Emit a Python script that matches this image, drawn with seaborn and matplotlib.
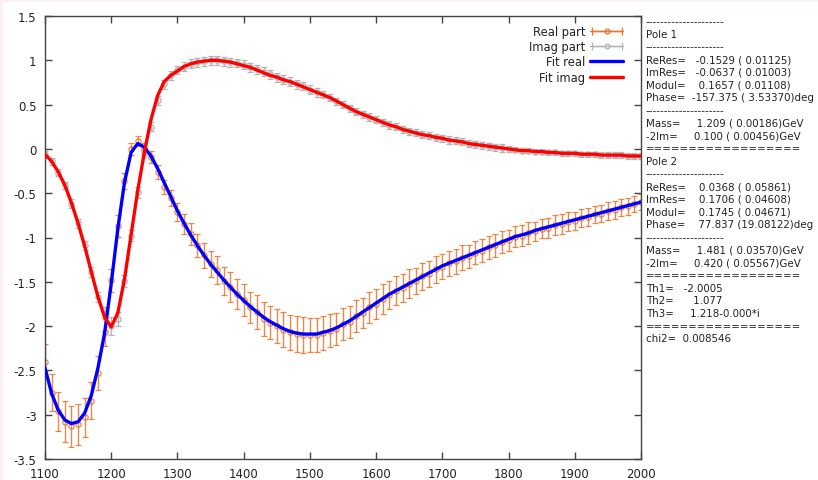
import numpy as np
import pandas as pd
import matplotlib
matplotlib.use('Agg')
import matplotlib.pyplot as plt
import seaborn as sns
from matplotlib.patches import Rectangle
from matplotlib.legend_handler import HandlerErrorbar
from matplotlib.container import ErrorbarContainer

# energy grid (MeV)
energy = list(range(1100, 2001, 10))

re_data = [-2.40, -2.75, -2.96, -3.08, -3.13, -3.11, -3.03, -2.84, -2.53, -2.07,
           -1.48, -0.87, -0.36, 0.00, 0.09, 0.00, -0.09, -0.26, -0.43, -0.55,
           -0.71, -0.85, -0.96, -1.09, -1.20, -1.30, -1.37, -1.49, -1.56, -1.64,
           -1.71, -1.79, -1.84, -1.92, -1.96, -2.00, -2.04, -2.07, -2.09, -2.10,
           -2.10, -2.10, -2.08, -2.05, -2.03, -1.98, -1.95, -1.89, -1.85, -1.79,
           -1.75, -1.69, -1.65, -1.60, -1.57, -1.52, -1.49, -1.44, -1.41, -1.36,
           -1.33, -1.29, -1.27, -1.23, -1.21, -1.17, -1.15, -1.11, -1.09, -1.05,
           -1.03, -0.99, -0.98, -0.95, -0.93, -0.90, -0.89, -0.86, -0.85, -0.82,
           -0.81, -0.78, -0.77, -0.74, -0.73, -0.70, -0.69, -0.66, -0.65, -0.62,
           -0.60]
re_err = [0.20, 0.21, 0.22, 0.23, 0.23, 0.23, 0.22, 0.21, 0.19, 0.16,
          0.13, 0.12, 0.09, 0.07, 0.06, 0.07, 0.07, 0.08, 0.08, 0.09,
          0.10, 0.11, 0.12, 0.13, 0.14, 0.15, 0.16, 0.16, 0.17, 0.17,
          0.18, 0.18, 0.19, 0.19, 0.19, 0.19, 0.20, 0.20, 0.20, 0.20,
          0.19, 0.19, 0.19, 0.19, 0.18, 0.18, 0.18, 0.18, 0.17, 0.17,
          0.17, 0.17, 0.16, 0.16, 0.16, 0.16, 0.15, 0.15, 0.15, 0.15,
          0.14, 0.14, 0.14, 0.14, 0.13, 0.13, 0.13, 0.13, 0.13, 0.12,
          0.12, 0.12, 0.12, 0.12, 0.11, 0.11, 0.11, 0.11, 0.11, 0.11,
          0.10, 0.10, 0.10, 0.10, 0.10, 0.10, 0.10, 0.10, 0.10, 0.09,
          0.09]
re_fit = [-2.47, -2.76, -2.95, -3.06, -3.10, -3.08, -2.98, -2.78, -2.47, -2.08,
          -1.52, -0.90, -0.38, -0.04, 0.06, 0.02, -0.08, -0.22, -0.38, -0.54,
          -0.70, -0.84, -0.97, -1.09, -1.20, -1.30, -1.39, -1.48, -1.56, -1.64,
          -1.71, -1.78, -1.84, -1.90, -1.95, -1.99, -2.03, -2.06, -2.08, -2.09,
          -2.09, -2.09, -2.07, -2.05, -2.02, -1.98, -1.94, -1.89, -1.84, -1.79,
          -1.74, -1.69, -1.64, -1.60, -1.56, -1.52, -1.48, -1.44, -1.40, -1.36,
          -1.32, -1.29, -1.26, -1.23, -1.20, -1.17, -1.14, -1.11, -1.08, -1.05,
          -1.02, -0.99, -0.97, -0.95, -0.92, -0.90, -0.88, -0.86, -0.84, -0.82,
          -0.80, -0.78, -0.76, -0.74, -0.72, -0.70, -0.68, -0.66, -0.64, -0.62,
          -0.60]

im_data = [-0.06, -0.14, -0.27, -0.41, -0.62, -0.84, -1.09, -1.39, -1.67, -1.85,
           -2.00, -1.92, -1.49, -0.98, -0.49, -0.04, 0.25, 0.55, 0.73, 0.83,
           0.89, 0.93, 0.96, 0.98, 0.99, 1.00, 1.00, 0.99, 0.98, 0.97,
           0.95, 0.92, 0.90, 0.87, 0.84, 0.81, 0.78, 0.76, 0.73, 0.71,
           0.67, 0.64, 0.61, 0.58, 0.54, 0.50, 0.46, 0.42, 0.39, 0.36,
           0.33, 0.30, 0.27, 0.25, 0.22, 0.20, 0.18, 0.16, 0.15, 0.13,
           0.12, 0.10, 0.09, 0.08, 0.06, 0.05, 0.04, 0.03, 0.02, 0.01,
           0.00, -0.01, -0.02, -0.02, -0.03, -0.03, -0.04, -0.04, -0.05, -0.05,
           -0.05, -0.06, -0.06, -0.06, -0.07, -0.07, -0.07, -0.07, -0.08, -0.08,
           -0.08]
im_err = [0.04, 0.04, 0.04, 0.04, 0.05, 0.05, 0.05, 0.06, 0.06, 0.07,
          0.10, 0.08, 0.07, 0.06, 0.06, 0.05, 0.05, 0.05, 0.05, 0.05,
          0.05, 0.05, 0.05, 0.05, 0.05, 0.05, 0.05, 0.05, 0.05, 0.05,
          0.05, 0.05, 0.05, 0.05, 0.05, 0.05, 0.05, 0.05, 0.05, 0.05,
          0.05, 0.05, 0.04, 0.04, 0.04, 0.04, 0.04, 0.04, 0.04, 0.04,
          0.04, 0.04, 0.04, 0.04, 0.04, 0.04, 0.04, 0.04, 0.04, 0.04,
          0.04, 0.04, 0.04, 0.04, 0.04, 0.04, 0.04, 0.04, 0.04, 0.04,
          0.03, 0.03, 0.03, 0.03, 0.03, 0.03, 0.03, 0.03, 0.03, 0.03,
          0.03, 0.03, 0.03, 0.03, 0.03, 0.03, 0.03, 0.03, 0.03, 0.03,
          0.03]
im_fit = [-0.06, -0.14, -0.26, -0.41, -0.61, -0.84, -1.10, -1.39, -1.67, -1.90,
          -2.01, -1.85, -1.47, -0.97, -0.47, -0.04, 0.33, 0.60, 0.76, 0.83,
          0.88, 0.93, 0.96, 0.98, 0.99, 1.00, 1.00, 0.99, 0.98, 0.96,
          0.94, 0.92, 0.89, 0.86, 0.83, 0.81, 0.78, 0.76, 0.73, 0.70,
          0.67, 0.64, 0.61, 0.58, 0.54, 0.50, 0.46, 0.42, 0.39, 0.36,
          0.33, 0.30, 0.27, 0.25, 0.22, 0.20, 0.18, 0.16, 0.15, 0.13,
          0.12, 0.10, 0.09, 0.08, 0.06, 0.05, 0.04, 0.03, 0.02, 0.01,
          0.00, -0.01, -0.02, -0.02, -0.03, -0.03, -0.04, -0.04, -0.05, -0.05,
          -0.05, -0.06, -0.06, -0.06, -0.07, -0.07, -0.07, -0.07, -0.08, -0.08,
          -0.08]

pole_text = [
    "---------------------",
    "Pole 1",
    "---------------------",
    "ReRes=   -0.1529 ( 0.01125)",
    "ImRes=   -0.0637 ( 0.01003)",
    "Modul=    0.1657 ( 0.01108)",
    "Phase=  -157.375 ( 3.53370)deg",
    "---------------------",
    "Mass=     1.209 ( 0.00186)GeV",
    "-2Im=     0.100 ( 0.00456)GeV",
    "==================",
    "Pole 2",
    "---------------------",
    "ReRes=    0.0368 ( 0.05861)",
    "ImRes=    0.1706 ( 0.04608)",
    "Modul=    0.1745 ( 0.04671)",
    "Phase=    77.837 (19.08122)deg",
    "---------------------",
    "Mass=     1.481 ( 0.03570)GeV",
    "-2Im=     0.420 ( 0.05567)GeV",
    "==================",
    "Th1=   -2.0005",
    "Th2=      1.077",
    "Th3=     1.218-0.000*i",
    "==================",
    "chi2=  0.008546",
]

df = pd.DataFrame({'E': energy, 're_fit': re_fit, 'im_fit': im_fit})

sns.set_style('ticks')
plt.rcParams['font.family'] = ['DejaVu Sans']

ORANGE = '#e8742a'
GRAY = '#b4b4b4'

fig = plt.figure(figsize=(8.18, 4.81), dpi=100)
fig.patch.set_facecolor('#fcf0f4')
fig.patches.append(Rectangle((3 / 818, 0), 1, 1 - 3 / 481, transform=fig.transFigure,
                             facecolor='white', edgecolor='none', zorder=-10))
ax = fig.add_axes([45 / 818, 1 - 460 / 481, (641 - 45) / 818, (460 - 17) / 481])

ax.errorbar(energy, re_data, yerr=re_err, fmt='o', color=ORANGE, mfc='none',
            ms=3.8, mew=0.9, elinewidth=1.0, capsize=2.5, capthick=1.0, alpha=0.85,
            zorder=2)
ax.errorbar(energy, im_data, yerr=im_err, fmt='o', color=GRAY, mfc='none',
            ms=3.8, mew=0.9, elinewidth=1.0, capsize=2.5, capthick=1.0, zorder=2)

sns.lineplot(data=df, x='E', y='re_fit', color='#0000ff', lw=2.4, ax=ax,
             label='Fit real', zorder=5)
sns.lineplot(data=df, x='E', y='im_fit', color='#ff0000', lw=2.4, ax=ax,
             label='Fit imag', zorder=6)

# legend-only handles, gnuplot style horizontal bars
h_re = ax.errorbar([np.nan], [np.nan], xerr=[1], fmt='-o', color=ORANGE, mfc='none',
                   ms=3.5, mew=0.9, lw=1.0, capsize=3, label='Real part')
h_im = ax.errorbar([np.nan], [np.nan], xerr=[1], fmt='-o', color=GRAY, mfc='none',
                   ms=3.5, mew=0.9, lw=1.0, capsize=3, label='Imag part')
handles, labels = ax.get_legend_handles_labels()
order = ['Real part', 'Imag part', 'Fit real', 'Fit imag']
hl = dict(zip(labels, handles))
leg = ax.legend([hl[k] for k in order], order, loc='upper right',
                bbox_to_anchor=(0.985, 1.0), frameon=False, markerfirst=False,
                fontsize=8.3, handlelength=2.9, handletextpad=0.4, labelspacing=0.2,
                borderaxespad=0.35,
                handler_map={ErrorbarContainer: HandlerErrorbar(xerr_size=1.3)})
for t in leg.get_texts():
    t.set_color('#222222')

ax.set_xlim(1100, 2000)
ax.set_ylim(-3.5, 1.5)
ax.set_xticks(range(1100, 2001, 100))
ax.set_yticks(np.arange(-3.5, 1.51, 0.5))
ax.set_yticklabels(['-3.5', '-3', '-2.5', '-2', '-1.5', '-1', '-0.5', '0', '0.5', '1', '1.5'])
ax.set_xlabel('')
ax.set_ylabel('')
ax.tick_params(direction='in', length=5, width=1, colors='#444444', labelsize=8.5,
               labelcolor='#222222', top=True, right=True, pad=6)
for s in ax.spines.values():
    s.set_color('#444444')
    s.set_linewidth(1.0)

step = 12.7
for i, line in enumerate(pole_text):
    fig.text(646 / 818, 1 - (22 + i * step) / 481, line, fontsize=7.4, color='#222222',
             va='center', ha='left')

fig.savefig('out.png', dpi=100, facecolor=fig.get_facecolor())
